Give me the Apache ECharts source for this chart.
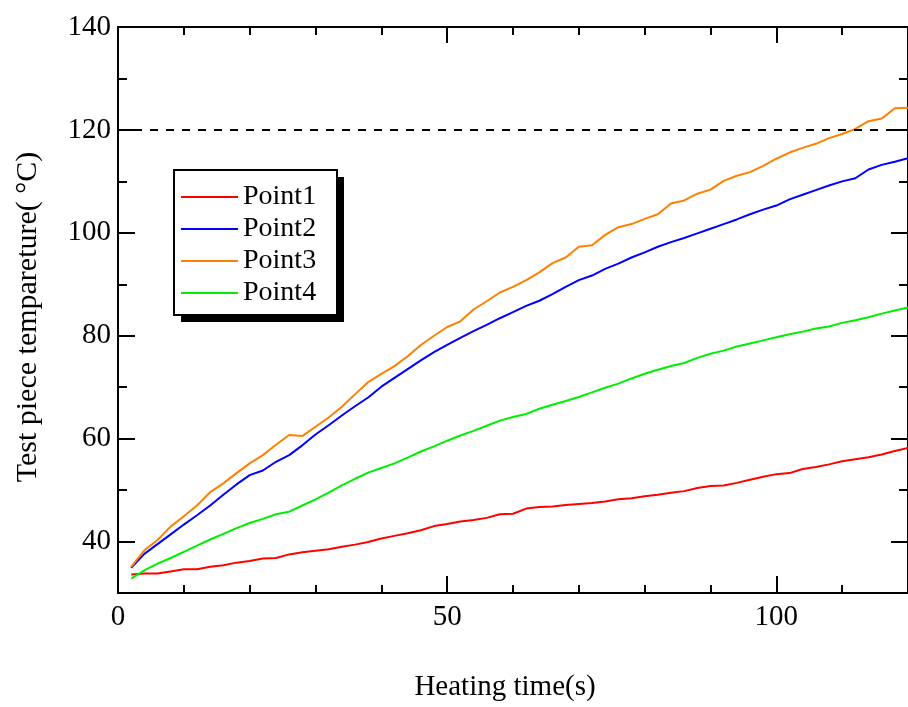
<!DOCTYPE html>
<html>
<head>
<meta charset="utf-8">
<title>Test piece temperature</title>
<script src="https://cdn.jsdelivr.net/npm/echarts@6.0.0/dist/echarts.min.js"></script>
<style>
  html, body { margin: 0; padding: 0; background: #fff; }
  #chart { width: 908px; height: 707px; }
</style>
</head>
<body>
<div id="chart"></div>
<script>
// heating time (s)
var times = [2, 4, 6, 8, 10, 12, 14, 16, 18, 20, 22, 24, 26, 28, 30, 32, 34, 36, 38, 40,
  42, 44, 46, 48, 50, 52, 54, 56, 58, 60, 62, 64, 66, 68, 70, 72, 74, 76, 78, 80,
  82, 84, 86, 88, 90, 92, 94, 96, 98, 100, 102, 104, 106, 108, 110, 112, 114, 116, 118, 120];

var point1 = [33.6, 33.8, 33.8, 34.2, 34.6, 34.6, 35.1, 35.4, 35.9, 36.2, 36.7, 36.8, 37.5, 37.9, 38.2, 38.5, 39.0, 39.4, 39.9, 40.6,
  41.1, 41.6, 42.2, 43.0, 43.4, 43.9, 44.2, 44.6, 45.3, 45.4, 46.4, 46.7, 46.8, 47.1, 47.3, 47.5, 47.8, 48.2, 48.4, 48.8,
  49.1, 49.5, 49.8, 50.4, 50.8, 50.9, 51.4, 52.0, 52.6, 53.1, 53.3, 54.1, 54.5, 55.0, 55.6, 56.0, 56.4, 56.9, 57.6, 58.2];

var point2 = [34.9, 37.6, 39.5, 41.4, 43.3, 45.1, 47.0, 49.1, 51.1, 52.9, 53.8, 55.5, 56.8, 58.7, 60.8, 62.6, 64.5, 66.3, 68.0, 70.1,
  71.8, 73.5, 75.2, 76.8, 78.2, 79.6, 80.9, 82.1, 83.4, 84.6, 85.8, 86.8, 88.1, 89.5, 90.8, 91.7, 93.0, 94.0, 95.2, 96.2,
  97.3, 98.2, 99.0, 99.9, 100.8, 101.7, 102.6, 103.6, 104.5, 105.3, 106.5, 107.4, 108.3, 109.2, 110.0, 110.6, 112.3, 113.2, 113.8, 114.5];

var point3 = [35.1, 38.3, 40.3, 42.9, 44.9, 47.0, 49.6, 51.3, 53.3, 55.2, 56.8, 58.8, 60.7, 60.5, 62.3, 64.1, 66.2, 68.6, 71.0, 72.6,
  74.1, 76.0, 78.2, 80.0, 81.7, 82.8, 85.1, 86.7, 88.4, 89.5, 90.8, 92.3, 94.1, 95.2, 97.3, 97.6, 99.6, 101.1, 101.7, 102.7,
  103.6, 105.7, 106.3, 107.6, 108.4, 110.1, 111.1, 111.8, 113.0, 114.4, 115.6, 116.5, 117.3, 118.4, 119.2, 120.2, 121.7, 122.2, 124.2, 124.3];

var point4 = [32.8, 34.4, 35.7, 36.8, 38.0, 39.2, 40.4, 41.5, 42.6, 43.6, 44.4, 45.3, 45.8, 47.0, 48.2, 49.5, 50.9, 52.2, 53.4, 54.3,
  55.2, 56.3, 57.5, 58.5, 59.6, 60.6, 61.5, 62.5, 63.5, 64.2, 64.8, 65.8, 66.6, 67.3, 68.1, 69.0, 69.9, 70.7, 71.7, 72.6,
  73.4, 74.1, 74.7, 75.7, 76.5, 77.1, 77.9, 78.5, 79.1, 79.7, 80.3, 80.8, 81.4, 81.8, 82.5, 83.0, 83.6, 84.3, 84.9, 85.5];

var seriesNames = ["Point1", "Point2", "Point3", "Point4"];
var seriesColors = ["#ff0000", "#0000ff", "#ff8000", "#00ee00"];
var seriesValues = [point1, point2, point3, point4];

var xMajor = [0, 50, 100];
var xMinor = [10, 20, 30, 40, 60, 70, 80, 90, 110];
var yMajor = [40, 60, 80, 100, 120, 140];
var yMinor = [50, 70, 90, 110, 130];
var limitTemp = 120;

var font = "'Liberation Serif', 'Times New Roman', serif";

function pairs(vals) {
  var out = [];
  for (var i = 0; i < vals.length; i++) {
    out.push([times[i], vals[i]]);
  }
  return out;
}

// one axis per tick set, so major and minor ticks can have different lengths
function xAx(pos, ticks, len, labels) {
  return {
    type: "value", position: pos, min: 0, max: 120,
    axisLine: { show: true, onZero: false, lineStyle: { color: "#000", width: 2 } },
    axisTick: { show: true, inside: true, length: len, customValues: ticks, lineStyle: { color: "#000", width: 2 } },
    axisLabel: labels ? { show: true, customValues: ticks, margin: 10, color: "#000", fontSize: 29, fontFamily: font } : { show: false },
    splitLine: { show: false }
  };
}
function yAx(pos, ticks, len, labels) {
  return {
    type: "value", position: pos, min: 30, max: 140,
    axisLine: { show: true, onZero: false, lineStyle: { color: "#000", width: 2 } },
    axisTick: { show: true, inside: true, length: len, customValues: ticks, lineStyle: { color: "#000", width: 2 } },
    axisLabel: labels ? { show: true, customValues: ticks, margin: 7, color: "#000", fontSize: 29, fontFamily: font } : { show: false },
    splitLine: { show: false }
  };
}

var xAxes = [xAx("bottom", xMajor, 17, true), xAx("bottom", xMinor, 8, false), xAx("top", xMajor, 16, false), xAx("top", xMinor, 8, false)];
xAxes[0].name = "Heating time(s)";
xAxes[0].nameLocation = "middle";
xAxes[0].nameGap = 80;
xAxes[0].nameTextStyle = { color: "#000", fontSize: 29, fontFamily: font, padding: [0, 16, 0, 0] };

var yAxes = [yAx("left", yMajor, 17, true), yAx("left", yMinor, 9, false), yAx("right", yMajor, 17, false), yAx("right", yMinor, 9, false)];
yAxes[0].name = "Test piece tempareture( \u00b0C)";
yAxes[0].nameLocation = "middle";
yAxes[0].nameGap = 75;
yAxes[0].nameTextStyle = { color: "#000", fontSize: 30, fontFamily: font, padding: [0, 14, 0, 0] };

var series = [];
for (var k = 0; k < seriesNames.length; k++) {
  series.push({
    name: seriesNames[k],
    type: "line",
    data: pairs(seriesValues[k]),
    showSymbol: false,
    symbol: "none",
    color: seriesColors[k],
    lineStyle: { color: seriesColors[k], width: 2 },
    z: 3
  });
}
// dashed limit line
series[0].markLine = {
  silent: true,
  symbol: ["none", "none"],
  label: { show: false },
  lineStyle: { color: "#000", width: 2, type: [8, 8] },
  data: [{ yAxis: limitTemp }]
};

var chart = echarts.init(document.getElementById("chart"), null, { renderer: "canvas" });
chart.setOption({
  backgroundColor: "#fff",
  animation: false,
  grid: { left: 118, top: 27, width: 794, height: 568, containLabel: false },
  // legend frame with a hard drop shadow
  graphic: [
    { type: "rect", z: 5, shape: { x: 181, y: 177, width: 163, height: 145 }, style: { fill: "#000" } },
    { type: "rect", z: 6, shape: { x: 174, y: 170, width: 163, height: 145 }, style: { fill: "#fff", stroke: "#000", lineWidth: 2 } }
  ],
  legend: {
    orient: "vertical",
    left: 174,
    top: 170,
    z: 10,
    padding: [13, 21, 8, 7],
    icon: "rect",
    itemWidth: 57,
    itemHeight: 2,
    itemGap: 4,
    selectedMode: false,
    textStyle: { color: "#000", fontSize: 28, fontFamily: font, lineHeight: 28 },
    data: seriesNames
  },
  xAxis: xAxes,
  yAxis: yAxes,
  series: series
});
</script>
</body>
</html>
